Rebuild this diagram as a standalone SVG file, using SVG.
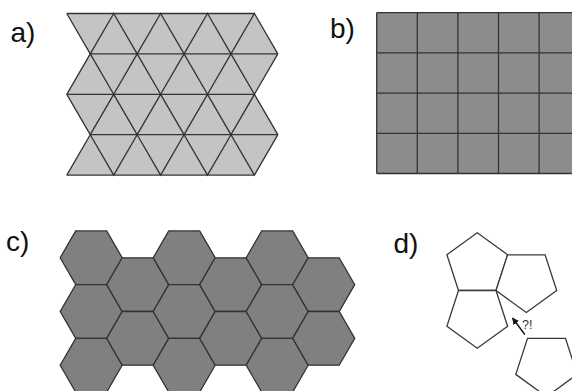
<svg xmlns="http://www.w3.org/2000/svg" xmlns:xlink="http://www.w3.org/1999/xlink" width="572" height="391" viewBox="0 0 572 391">
<style>
.lbl{font-family:"Liberation Sans",Arial,sans-serif;font-size:28px;fill:#111}
.tri{fill:#c4c4c4;stroke:none}
.ln{fill:none;stroke:#333;stroke-width:1.3;stroke-linejoin:miter}
.sq{fill:#8c8c8c}
.hex{fill:#808080;stroke:#333;stroke-width:1.3}
.pent{fill:#fff;stroke:#3a3a3a;stroke-width:1.3;stroke-linejoin:miter}
.q{font-family:"Liberation Sans",Arial,sans-serif;font-size:12.5px;fill:#333}
</style>
<defs>
<polygon id="hx" points="31,0 15.5,26.85 -15.5,26.85 -31,0 -15.5,-26.85 15.5,-26.85"/>
<marker id="ah" viewBox="0 0 10 10" refX="9" refY="5" markerWidth="7" markerHeight="7" markerUnits="userSpaceOnUse" orient="auto"><path d="M0,0 L10,5 L0,10 z" fill="#111"/></marker>
</defs>
<rect width="572" height="391" fill="#fff"/>

<g id="panel-a">
<text class="lbl" x="10.5" y="41.5">a)</text>
<polygon class="tri" points="66.8,13.5 254.4,13.5 277.85,53.9 254.4,94.3 277.85,134.7 254.4,175.1 66.8,175.1 90.25,134.7 66.8,94.3 90.25,53.9"/>
<polyline class="ln" points="66.8,13.5 90.25,53.9 113.7,13.5 137.15,53.9 160.6,13.5 184.05,53.9 207.5,13.5 230.95,53.9 254.4,13.5 277.85,53.9"/>
<polyline class="ln" points="66.8,94.3 90.25,53.9 113.7,94.3 137.15,53.9 160.6,94.3 184.05,53.9 207.5,94.3 230.95,53.9 254.4,94.3 277.85,53.9"/>
<polyline class="ln" points="66.8,94.3 90.25,134.7 113.7,94.3 137.15,134.7 160.6,94.3 184.05,134.7 207.5,94.3 230.95,134.7 254.4,94.3 277.85,134.7"/>
<polyline class="ln" points="66.8,175.1 90.25,134.7 113.7,175.1 137.15,134.7 160.6,175.1 184.05,134.7 207.5,175.1 230.95,134.7 254.4,175.1 277.85,134.7"/>
<path class="ln" d="M66.8,13.5H254.4M90.25,53.9H277.85M66.8,94.3H254.4M90.25,134.7H277.85M66.8,175.1H254.4"/>
</g>

<g id="panel-b">
<text class="lbl" x="330" y="38">b)</text>
<rect class="sq" x="376.7" y="12.7" width="220" height="160.8"/>
<path class="ln" d="M376.7,12.7V173.5M417.3,12.7V173.5M457.9,12.7V173.5M498.5,12.7V173.5M539.1,12.7V173.5M376.7,12.7H580M376.7,52.9H580M376.7,93.1H580M376.7,133.3H580M376.7,173.5H580"/>
</g>

<g id="panel-c">
<text class="lbl" x="6" y="250.5">c)</text>
<use xlink:href="#hx" class="hex" x="91.2" y="257.8"/>
<use xlink:href="#hx" class="hex" x="91.2" y="311.5"/>
<use xlink:href="#hx" class="hex" x="91.2" y="365.2"/>
<use xlink:href="#hx" class="hex" x="137.7" y="284.65"/>
<use xlink:href="#hx" class="hex" x="137.7" y="338.35"/>
<use xlink:href="#hx" class="hex" x="184.2" y="257.8"/>
<use xlink:href="#hx" class="hex" x="184.2" y="311.5"/>
<use xlink:href="#hx" class="hex" x="184.2" y="365.2"/>
<use xlink:href="#hx" class="hex" x="230.7" y="284.65"/>
<use xlink:href="#hx" class="hex" x="230.7" y="338.35"/>
<use xlink:href="#hx" class="hex" x="277.2" y="257.8"/>
<use xlink:href="#hx" class="hex" x="277.2" y="311.5"/>
<use xlink:href="#hx" class="hex" x="277.2" y="365.2"/>
<use xlink:href="#hx" class="hex" x="323.7" y="284.65"/>
<use xlink:href="#hx" class="hex" x="323.7" y="338.35"/>
</g>

<g id="panel-d">
<text class="lbl" x="393.5" y="253">d)</text>
<g id="pent-top"><polygon class="pent" points="458.5,290.5 496,290.5 507.6,254.8 477.25,232.75 446.9,254.8"/></g>
<g id="pent-right"><polygon class="pent" points="496,290.5 507.6,254.8 545.1,254.8 556.7,290.5 526.3,312.5"/></g>
<g id="pent-bottom"><polygon class="pent" points="458.5,290.5 496,290.5 507.6,326.2 477.25,348.25 446.9,326.2"/></g>
<g id="pent-loose"><polygon class="pent" points="527.5,338.3 565.5,338.3 577.2,374.4 546.5,396.7 515.8,374.4"/></g>
<text class="q" x="522" y="329">?!</text>
</g>

<g id="connectors">
<line x1="524.8" y1="334.5" x2="512.6" y2="318" stroke="#111" stroke-width="1.4" marker-end="url(#ah)"/>
</g>
</svg>
